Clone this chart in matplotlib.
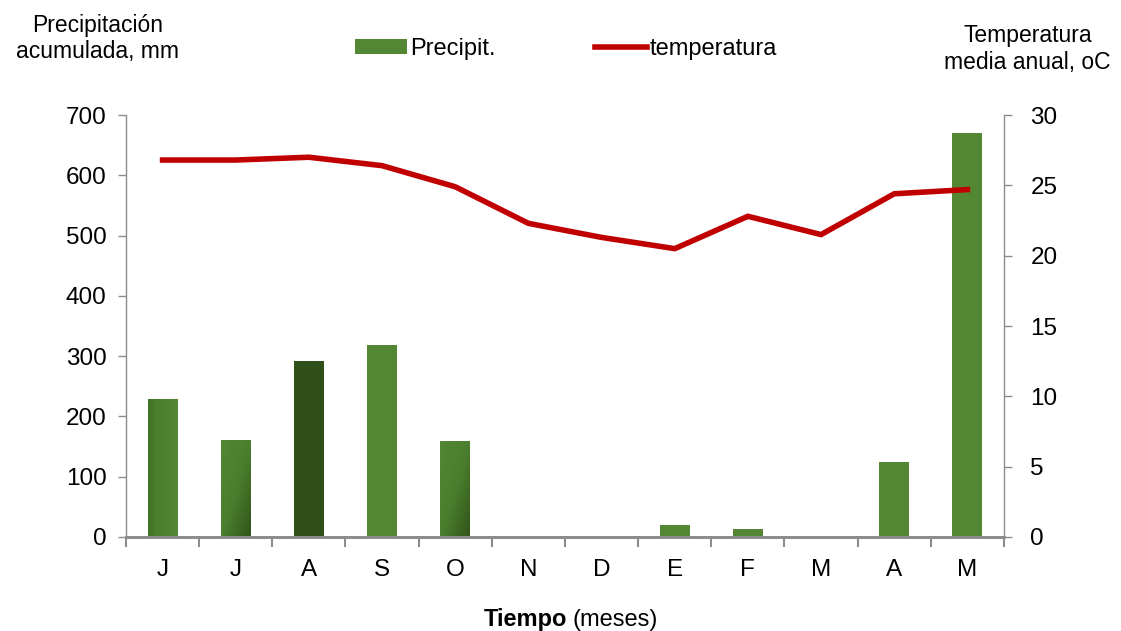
import numpy as np
import matplotlib.pyplot as plt
from matplotlib.colors import LinearSegmentedColormap
from matplotlib.patches import Patch
from matplotlib.lines import Line2D

plt.rcParams['font.family'] = ['Liberation Sans', 'DejaVu Sans']

meses = ['J', 'J', 'A', 'S', 'O', 'N', 'D', 'E', 'F', 'M', 'A', 'M']
precip = [229, 161, 292, 318, 159, 0, 0, 20, 13, 0, 124, 670]
temp = [26.8, 26.8, 27.0, 26.4, 24.9, 22.3, 21.3, 20.5, 22.8, 21.5, 24.4, 24.7]
# fill style of each bar: 'h' = horizontal gradient, 'd' = diagonal gradient
estilo = ['h', 'd', 'dark', 'light', 'd', 'light', 'light', 'light', 'light', 'light', 'light', 'light']

verde = '#548734'
verde_osc = '#2e4f17'
rojo = '#c00000'
gris = '#8c8c8c'

fig = plt.figure(figsize=(11.21, 6.31), dpi=100)
ax = fig.add_axes([0.1124, 0.149, 0.7832, 0.6687])
ax2 = ax.twinx()

x = np.arange(len(meses))
bars = ax.bar(x, precip, width=0.41, color=verde, zorder=2)

# gradient fills for the shaded bars
cmap = LinearSegmentedColormap.from_list('g', [verde_osc, '#4a7d2d', verde])
for b, st in zip(bars, estilo):
    if st == 'dark':
        b.set_facecolor(verde_osc)
    elif st in ('h', 'd'):
        b.set_facecolor('none')
        xx, yy = np.meshgrid(np.linspace(0, 1, 50), np.linspace(0, 1, 50))
        if st == 'h':
            g = 0.35 + 0.65 * xx
        else:
            g = 1 - 0.5 * (xx + (1 - yy))
            g = 0.05 + 0.95 * g
        bx, by = b.get_x(), b.get_y()
        im = ax.imshow(g, cmap=cmap, vmin=0, vmax=1, origin='lower', aspect='auto',
                       extent=[bx, bx + b.get_width(), by, by + b.get_height()], zorder=2)
        im.set_clip_path(b)

ax.set_xlim(-0.5, len(meses) - 0.5)
ax.set_ylim(0, 700)
ax.set_yticks(range(0, 701, 100))
ax.set_xticks(x)
ax.set_xticklabels(meses)
ax.set_xticks(np.arange(-0.5, len(meses)), minor=True)
ax.tick_params(axis='x', which='major', length=0, pad=16, labelsize=17.5)
ax.tick_params(axis='x', which='minor', length=7, width=1.5, color=gris)
ax.tick_params(axis='y', length=6, width=1, color=gris, labelsize=17.5, pad=8)

ax2.plot(x, temp, color=rojo, lw=4, zorder=3, solid_joinstyle='miter')
ax2.set_ylim(0, 30)
ax2.set_yticks(range(0, 31, 5))
ax2.tick_params(axis='y', length=6, width=1, color=gris, labelsize=17.5, pad=13)

for a in (ax, ax2):
    a.spines['top'].set_visible(False)
    for s in ('left', 'right'):
        a.spines[s].set_color(gris)
        a.spines[s].set_linewidth(1)
    a.spines['bottom'].set_color(gris)
    a.spines['bottom'].set_linewidth(2)
ax.spines['right'].set_visible(False)
ax2.spines['left'].set_visible(False)

fig.text(0.0874, 0.939, 'Precipitación\nacumulada, mm', ha='center', va='center', fontsize=16.5, linespacing=1.2)
fig.text(0.9165, 0.922, 'Temperatura\nmedia anual, oC', ha='center', va='center', fontsize=16.5, linespacing=1.2)

fig.text(0.506, 0.0, 'Tiempo', ha='right', va='bottom', fontsize=17, fontweight='bold')
fig.text(0.511, 0.0, '(meses)', ha='left', va='bottom', fontsize=17)

handles = [Patch(facecolor=verde, edgecolor='none'), Line2D([0], [0], color=rojo, lw=4)]
fig.legend(handles, ['Precipit.', 'temperatura'], loc='center', bbox_to_anchor=(0.505, 0.923),
           ncol=2, frameon=False, fontsize=17, handlelength=2.2, handletextpad=0.12,
           columnspacing=4.2, handleheight=0.6)

fig.savefig('out.png', dpi=100)
